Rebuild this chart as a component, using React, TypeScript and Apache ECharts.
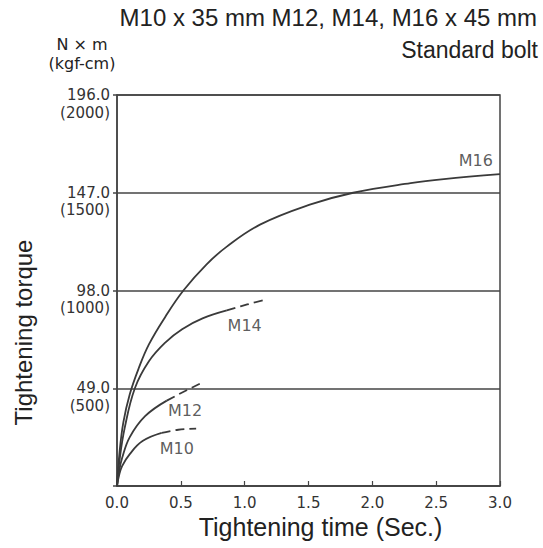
import React, { useEffect, useRef } from "react";
import * as echarts from "echarts";

// ---- data ----
const xTickLabels = ["0.0", "0.5", "1.0", "1.5", "2.0", "2.5", "3.0"];
const yTickNm = ["", "49.0", "98.0", "147.0", "196.0"];
const yTickKgf = ["", "(500)", "(1000)", "(1500)", "(2000)"];

const m16Time = [0, 0.02, 0.05, 0.1, 0.17, 0.25, 0.38, 0.52, 0.7, 0.86, 1.12, 1.51, 1.85, 2.3, 2.56, 3.0];
const m16Torque = [0, 17, 32, 46, 59, 71, 85, 98, 111, 120, 131, 141, 147, 151.8, 153.8, 156.3];

const m14Time = [0, 0.02, 0.06, 0.14, 0.25, 0.38, 0.51, 0.67, 0.86];
const m14Torque = [0, 13, 29, 49, 62.5, 72, 78.6, 84, 88];
const m14DashTime = [0.86, 1.02, 1.17];
const m14DashTorque = [88, 91, 93.5];

const m12Time = [0, 0.015, 0.04, 0.1, 0.22, 0.39];
const m12Torque = [0, 7, 14, 24.5, 35, 42.8];
const m12DashTime = [0.39, 0.53, 0.66];
const m12DashTorque = [42.8, 47.5, 51.6];

const m10Time = [0, 0.015, 0.04, 0.1, 0.2, 0.35];
const m10Torque = [0, 5, 10, 16, 22.5, 26.6];
const m10DashTime = [0.35, 0.48, 0.62];
const m10DashTorque = [26.6, 28.2, 28.8];

const curveNames = ["M16", "M14", "M12", "M10"];
const labelTime = [2.81, 1.0, 0.533, 0.468];
const labelTorque = [163, 80.6, 37.8, 18.7];

const titleText = "M10 x 35 mm M12, M14, M16 x 45 mm";
const subtitleText = "Standard bolt";
const unitText = "N × m\n(kgf-cm)";
const xName = "Tightening time (Sec.)";
const yName = "Tightening torque";

const pair = (xs: number[], ys: number[]) => xs.map((x, i) => [x, ys[i]]);

const FONT = "'Liberation Sans', Arial, sans-serif";
const NUMFONT = "'DejaVu Sans', sans-serif";
const INK = "#3a3a3a";

export default function App() {
  const ref = useRef<HTMLDivElement>(null);
  useEffect(() => {
    if (!ref.current) return;
    const chart = echarts.init(ref.current, null, { renderer: "svg" });
    const solid = { color: INK, width: 1.8 };
    const dashed = { color: INK, width: 1.8, type: [9, 5] as number[] };
    const line = (name: string, data: number[][], style: any) => ({
      type: "line",
      name,
      data,
      smooth: 0.4,
      showSymbol: false,
      symbol: "none",
      lineStyle: style,
      silent: true,
      z: 3,
    });
    chart.setOption({
      animation: false,
      backgroundColor: "#ffffff",
      textStyle: { fontFamily: FONT },
      title: [
        {
          text: titleText,
          right: 6,
          top: 5,
          padding: 0,
          textStyle: { fontSize: 24, fontWeight: "normal", color: "#222", fontFamily: FONT },
        },
        {
          text: subtitleText,
          right: 5,
          top: 38,
          padding: 0,
          textStyle: { fontSize: 23, fontWeight: "normal", color: "#222", fontFamily: FONT },
        },
        {
          text: unitText,
          left: 82,
          top: 35,
          padding: 0,
          textAlign: "center",
          textStyle: { fontSize: 16, lineHeight: 19, fontWeight: "normal", color: "#222", fontFamily: NUMFONT },
        },
      ],
      grid: {
        left: 117,
        right: 43,
        top: 95,
        bottom: 62,
        show: true,
        borderColor: "#444",
        borderWidth: 1.5,
        backgroundColor: "transparent",
      },
      xAxis: {
        type: "value",
        min: 0,
        max: 3,
        interval: 0.5,
        name: xName,
        nameLocation: "middle",
        nameGap: 28,
        nameTextStyle: { fontSize: 25, color: "#222", padding: [0, 0, 0, 24], fontFamily: FONT },
        axisLine: { show: true, lineStyle: { color: "#444", width: 1.5 } },
        axisTick: { show: true, inside: true, length: 5, lineStyle: { color: "#444", width: 1.2 } },
        splitLine: { show: false },
        axisLabel: {
          fontSize: 15,
          color: "#333",
          margin: 9,
          fontFamily: NUMFONT,
          formatter: (v: number) => xTickLabels[Math.round(v / 0.5)] ?? "",
        },
      },
      yAxis: {
        type: "value",
        min: 0,
        max: 196,
        interval: 49,
        name: yName,
        nameLocation: "middle",
        nameRotate: 90,
        nameGap: 82,
        nameTextStyle: { fontSize: 24, color: "#222", padding: [0, 84, 0, 0], fontFamily: FONT },
        axisLine: { show: true, lineStyle: { color: "#444", width: 1.5 } },
        axisTick: { show: true, inside: false, length: 4, lineStyle: { color: "#444", width: 1.5 } },
        splitLine: { show: true, lineStyle: { color: "#444", width: 1.5 } },
        axisLabel: {
          fontSize: 15,
          color: "#333",
          margin: 7,
          lineHeight: 17.5,
          align: "right",
          fontFamily: NUMFONT,
          formatter: (v: number) => {
            const i = Math.round(v / 49);
            if (!yTickNm[i]) return "";
            return `\n${yTickNm[i]}\n${yTickKgf[i]}`;
          },
        },
      },
      series: [
        line("M16", pair(m16Time, m16Torque), solid),
        line("M14", pair(m14Time, m14Torque), solid),
        line("M14 dashed", pair(m14DashTime, m14DashTorque), dashed),
        line("M12", pair(m12Time, m12Torque), solid),
        line("M12 dashed", pair(m12DashTime, m12DashTorque), dashed),
        line("M10", pair(m10Time, m10Torque), solid),
        line("M10 dashed", pair(m10DashTime, m10DashTorque), dashed),
        {
          type: "scatter",
          name: "labels",
          silent: true,
          symbolSize: 0,
          data: curveNames.map((n, i) => ({ name: n, value: [labelTime[i], labelTorque[i]] })),
          label: {
            show: true,
            position: "inside",
            formatter: (p: any) => p.name,
            fontSize: 16,
            color: "#333",
            fontFamily: NUMFONT,
          },
          z: 4,
        },
      ],
    });
    return () => chart.dispose();
  }, []);
  return (
    <div
      ref={ref}
      style={{ position: "fixed", left: 0, top: 0, width: 543, height: 548, background: "#fff" }}
    />
  );
}
